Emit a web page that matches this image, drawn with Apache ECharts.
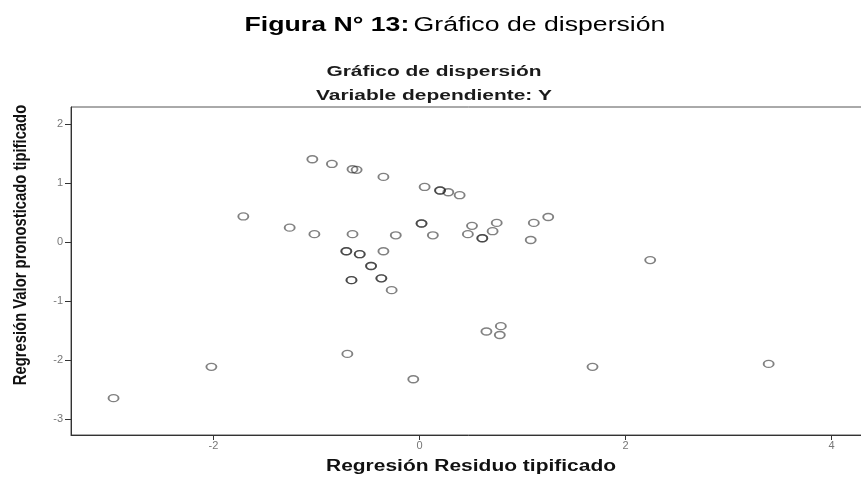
<!DOCTYPE html>
<html><head><meta charset="utf-8">
<script src="https://cdn.jsdelivr.net/npm/echarts@6/dist/echarts.min.js"></script>
<style>html,body{margin:0;padding:0;background:#fff;overflow:hidden}#c{width:866px;height:477px}</style>
</head><body><div id="c"></div>
<script>
// Regresión Residuo tipificado (x) and Regresión Valor pronosticado tipificado (y)
const residuo = [
  -1.04, -0.85, -0.65, -0.61, -0.35, 0.05, 0.20, 0.20, 0.28, 0.39,
  -1.71, -1.26, -1.02, -0.65, -0.23, 0.02, 0.02, 0.13, 0.51, 0.47,
  0.61, 0.61, -0.71, -0.71, -0.58, -0.58, -0.35, -0.47, -0.47, -0.66,
  -0.66, -0.37, -0.37, -0.27, 0.75, 0.71, 1.11, 1.25, 1.08, 2.24,
  0.65, -0.70, -2.02, -0.06, -2.97, 0.79, 0.78, 1.68, 3.39
];
const pronosticado = [
  1.40, 1.32, 1.23, 1.22, 1.10, 0.93, 0.87, 0.87, 0.84, 0.79,
  0.43, 0.24, 0.13, 0.13, 0.11, 0.31, 0.31, 0.11, 0.27, 0.13,
  0.06, 0.06, -0.16, -0.16, -0.21, -0.21, -0.16, -0.41, -0.41, -0.65,
  -0.65, -0.62, -0.62, -0.82, 0.32, 0.18, 0.32, 0.42, 0.03, -0.31,
  -1.52, -1.90, -2.12, -2.33, -2.65, -1.43, -1.58, -2.12, -2.07
];
const xTicks = [-2, 0, 2, 4];
const yTicks = [-3, -2, -1, 0, 1, 2];

const points = residuo.map((x, i) => [x, pronosticado[i]]);
const chart = echarts.init(document.getElementById('c'), null, {renderer: 'canvas'});
const axisColor = '#333';
const labelColor = '#777';
const F = '"Liberation Sans", Arial, sans-serif';
chart.setOption({
  animation: false,
  backgroundColor: '#fff',
  graphic: [
    {type: 'text', x: 455, y: 25, scaleX: 1.3, style: {
      text: '{b|Figura N° 13:} {n|Gráfico de dispersión}', align: 'center', verticalAlign: 'middle',
      rich: {
        b: {fontFamily: F, fontWeight: 'bold', fontSize: 20.5, fill: '#000'},
        n: {fontFamily: F, fontWeight: 'normal', fontSize: 20.5, fill: '#000'}
      }}},
    {type: 'text', x: 434, y: 72, scaleX: 1.35, style: {text: 'Gráfico de dispersión', font: 'bold 15.5px ' + F, fill: '#1a1a1a', align: 'center', verticalAlign: 'middle'}},
    {type: 'text', x: 434, y: 96, scaleX: 1.35, style: {text: 'Variable dependiente: Y', font: 'bold 15.5px ' + F, fill: '#1a1a1a', align: 'center', verticalAlign: 'middle'}},
    {type: 'text', x: 471, y: 467, scaleX: 1.31, style: {text: 'Regresión Residuo tipificado', font: 'bold 16px ' + F, fill: '#111', align: 'center', verticalAlign: 'middle'}},
    {type: 'text', x: 21, y: 245, rotation: Math.PI / 2, scaleY: 1.25, style: {text: 'Regresión Valor pronosticado tipificado', font: 'bold 14.8px ' + F, fill: '#111', align: 'center', verticalAlign: 'middle'}}
  ],
  grid: {left: 71, top: 107, right: 0, bottom: 42, show: true, borderColor: '#555', borderWidth: 1, backgroundColor: '#fff'},
  xAxis: {
    type: 'value', min: -3.383, max: 4.335,
    splitLine: {show: false},
    axisLine: {show: true, onZero: false, lineStyle: {color: axisColor, width: 1}},
    axisTick: {show: true, inside: false, customValues: xTicks, length: 5, lineStyle: {color: axisColor}},
    axisLabel: {show: true, customValues: xTicks, color: labelColor, fontSize: 11, margin: 5, fontFamily: F}
  },
  yAxis: {
    type: 'value', min: -3.275, max: 2.285,
    splitLine: {show: false},
    axisLine: {show: true, onZero: false, lineStyle: {color: axisColor, width: 1}},
    axisTick: {show: true, inside: false, customValues: yTicks, length: 6, lineStyle: {color: axisColor}},
    axisLabel: {show: true, customValues: yTicks, color: labelColor, fontSize: 11, margin: 8, fontFamily: F}
  },
  series: [{
    type: 'scatter',
    data: points,
    symbol: 'circle',
    symbolSize: [10, 7],
    itemStyle: {color: 'rgba(255,255,255,0)', borderColor: 'rgba(30,30,30,0.7)', borderWidth: 1.6}
  }]
});
</script></body></html>
